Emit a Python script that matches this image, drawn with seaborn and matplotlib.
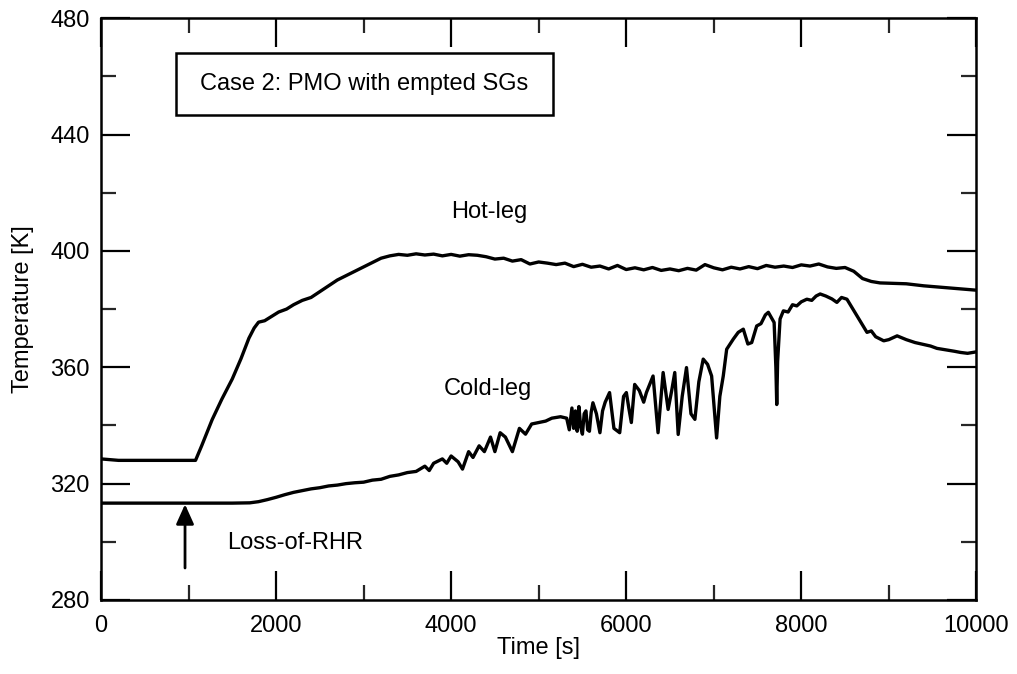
import numpy as np
import pandas as pd
import matplotlib
matplotlib.use("Agg")
import matplotlib.pyplot as plt
import seaborn as sns
from matplotlib.patches import Rectangle
from matplotlib.ticker import MultipleLocator

# ---------------- data ----------------
hot_t = [0, 200, 400, 600, 800, 1000, 1080, 1150, 1270, 1380, 1500, 1600, 1690, 1750,
         1800, 1870, 1950, 2030, 2120, 2200, 2300, 2400, 2500, 2600, 2700, 2800, 2900,
         3000, 3100, 3200, 3300, 3400, 3500, 3600, 3700, 3800, 3900, 4000, 4100, 4200,
         4300, 4400, 4500, 4600, 4700, 4800, 4900, 5000, 5100, 5200, 5300, 5400, 5500,
         5600, 5700, 5800, 5900, 6000, 6100, 6200, 6300, 6400, 6500, 6600, 6700, 6800,
         6900, 7000, 7100, 7200, 7300, 7400, 7500, 7600, 7700, 7800, 7900, 8000, 8100,
         8200, 8300, 8400, 8500, 8600, 8700, 8800, 8900, 9000, 9200, 9400, 9600, 9800, 10000]
hot_T = [328.5, 328.0, 328.0, 328.0, 328.0, 328.0, 328.0, 333.0, 342.0, 349.0, 356.0, 363.0,
         370.0, 373.5, 375.5, 376.0, 377.5, 379.0, 380.0, 381.5, 383.0, 384.0, 386.0, 388.0,
         390.0, 391.5, 393.0, 394.5, 396.0, 397.5, 398.3, 398.8, 398.5, 399.0, 398.6, 398.9,
         398.3, 398.8, 398.2, 398.7, 398.5, 398.0, 397.2, 397.5, 396.5, 397.0, 395.5, 396.2,
         395.8, 395.3, 395.8, 394.6, 395.4, 394.4, 394.8, 393.8, 395.0, 393.6, 394.2, 393.5,
         394.3, 393.3, 393.8, 393.2, 394.0, 393.4, 395.3, 394.2, 393.5, 394.4, 393.8, 394.6,
         393.9, 395.0, 394.4, 394.8, 394.3, 395.2, 394.8, 395.5, 394.5, 394.0, 394.3, 393.0,
         390.5, 389.5, 389.0, 388.9, 388.7, 388.0, 387.5, 387.0, 386.5]

cold_t = [0, 500, 1000, 1500, 1700, 1800, 1900, 2000, 2100, 2200, 2300, 2400, 2500, 2600,
          2700, 2800, 2900, 3000, 3100, 3200, 3300, 3400, 3500, 3600, 3700, 3750, 3800,
          3900, 3950, 4000, 4080, 4130, 4200, 4250, 4320, 4380, 4450, 4500, 4560, 4620,
          4700, 4780, 4850, 4920, 5000, 5080, 5150, 5250, 5320, 5350, 5380, 5400, 5420,
          5440, 5460, 5480, 5500, 5520, 5540, 5560, 5580, 5600, 5620, 5660, 5700, 5730,
          5760, 5810, 5860, 5926, 5970, 6002, 6030, 6059, 6097, 6150, 6200, 6231, 6307,
          6364, 6422, 6479, 6520, 6555, 6594, 6640, 6689, 6740, 6785, 6830, 6880, 6930,
          6976, 7033, 7070, 7109, 7148, 7224, 7280, 7338, 7390, 7434, 7491, 7540, 7590,
          7624, 7660, 7690, 7710, 7720, 7730, 7758, 7796, 7850, 7900, 7949, 8000, 8064,
          8120, 8170, 8216, 8280, 8350, 8407, 8460, 8522, 8570, 8637, 8700, 8751, 8800,
          8850, 8942, 9000, 9095, 9200, 9300, 9400, 9477, 9550, 9650, 9750, 9820, 9900, 10000]
cold_T = [313.3, 313.3, 313.3, 313.3, 313.4, 313.8, 314.5, 315.3, 316.2, 317.0, 317.6, 318.2,
          318.6, 319.2, 319.5, 320.0, 320.3, 320.5, 321.2, 321.5, 322.5, 323.0, 323.8, 324.2,
          326.0, 324.5, 327.0, 328.5, 327.0, 329.5, 327.5, 325.0, 331.0, 329.0, 333.0, 331.0,
          336.0, 331.0, 337.5, 336.0, 331.0, 339.0, 337.0, 340.5, 341.0, 341.5, 342.5, 343.0,
          342.5, 338.5, 346.0, 339.0, 345.0, 338.0, 346.5, 339.5, 337.0, 344.0, 345.0, 338.5,
          338.0, 344.5, 347.8, 344.0, 337.5, 345.0, 348.0, 351.3, 339.0, 337.5, 350.0, 351.3,
          346.0, 341.0, 354.1, 352.0, 348.0, 351.3, 357.0, 337.5, 358.2, 345.5, 352.0, 358.2,
          336.9, 350.0, 359.9, 344.0, 342.1, 355.0, 362.8, 361.0, 357.0, 335.7, 350.0, 357.0,
          366.2, 369.7, 372.0, 373.1, 368.0, 368.5, 374.2, 375.0, 378.0, 378.9, 377.0, 375.4,
          360.0, 347.2, 362.0, 376.6, 379.4, 379.0, 381.5, 381.1, 382.5, 383.4, 383.0, 384.5,
          385.2, 384.5, 383.5, 382.3, 384.0, 383.4, 381.0, 377.7, 374.5, 372.0, 372.5, 370.5,
          369.1, 369.5, 370.8, 369.5, 368.5, 367.8, 367.3, 366.5, 366.0, 365.5, 365.1, 364.8,
          365.3]

x_ticks = [0, 2000, 4000, 6000, 8000, 10000]
y_ticks = [280, 320, 360, 400, 440, 480]

title_text = "Case 2: PMO with empted SGs"
hot_label = "Hot-leg"
cold_label = "Cold-leg"
event_label = "Loss-of-RHR"
event_time = 960

# ---------------- styling ----------------
sns.set_theme(style="ticks")
plt.rcParams['font.family'] = ['Liberation Sans', 'DejaVu Sans']
FS = 17

fig = plt.figure(figsize=(10.17, 6.74), dpi=100)
ax = fig.add_axes([0.0993, 0.1098, 0.8607, 0.8632])

hot_df = pd.DataFrame({"t": hot_t, "T": hot_T})
cold_df = pd.DataFrame({"t": cold_t, "T": cold_T})
sns.lineplot(data=hot_df, x="t", y="T", color="black", lw=2.4, ax=ax, sort=False)
sns.lineplot(data=cold_df, x="t", y="T", color="black", lw=2.4, ax=ax, sort=False)

ax.set_xlim(0, 10000)
ax.set_ylim(280, 480)
ax.set_xticks(x_ticks)
ax.set_yticks(y_ticks)
ax.set_xticklabels([str(v) for v in x_ticks])
ax.set_yticklabels([str(v) for v in y_ticks])
ax.xaxis.set_minor_locator(MultipleLocator(1000))
ax.yaxis.set_minor_locator(MultipleLocator(20))
ax.tick_params(which="major", direction="in", length=21, width=1.6,
               top=True, right=True, labelsize=FS, colors="black", pad=8)
ax.tick_params(which="minor", direction="in", length=11, width=1.6,
               top=True, right=True)
ax.tick_params(axis="x", which="major", pad=11)
for s in ax.spines.values():
    s.set_linewidth(1.8)
    s.set_color("black")

ax.set_xlabel("Time [s]", fontsize=FS, labelpad=0, color="black")
ax.set_ylabel("Temperature [K]", fontsize=FS, labelpad=12, color="black")

# legend-like box
ax.add_patch(Rectangle((860, 446.7), 4300, 21.3, fill=False, edgecolor="black",
                       lw=1.8, zorder=3))
ax.text(860 + 2150, 457.3, title_text, ha="center", va="center", fontsize=FS, color="black")

ax.text(4440, 413.4, hot_label, ha="center", va="center", fontsize=FS, color="black")
ax.text(4420, 352.4, cold_label, ha="center", va="center", fontsize=FS, color="black")
ax.text(1440, 299.7, event_label, ha="left", va="center", fontsize=FS, color="black")

ax.annotate("", xy=(event_time, 312.9), xytext=(event_time, 291),
            arrowprops=dict(arrowstyle="-|>,head_width=0.45,head_length=1.0",
                            color="black", lw=2.0, shrinkA=0, shrinkB=0))

fig.savefig("out.png", dpi=100, facecolor="white")
